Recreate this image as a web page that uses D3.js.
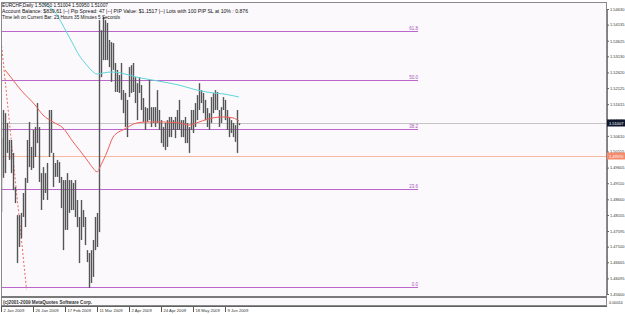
<!DOCTYPE html>
<html>
<head>
<meta charset="utf-8">
<script src="https://cdnjs.cloudflare.com/ajax/libs/d3/7.8.5/d3.min.js"></script>
<style>
  html, body { margin: 0; padding: 0; background: #fff; }
  svg { display: block; font-family: "Liberation Sans", Arial, sans-serif; }
</style>
</head>
<body>
<svg width="625" height="315"></svg>
<script>
// EURCHF daily bars, one per trading day from 2 Jan 2009 (index 0)
const highs = [
  1.5054, 1.5143, 1.5133, 1.5102, 1.5048, 1.5048, 1.5007, 1.4899, 1.4810, 1.4810,
  1.4817, 1.4880, 1.4928, 1.5048, 1.5105, 1.5026, 1.5080, 1.5089, 1.5165, 1.5089,
  1.4943, 1.4962, 1.4943, 1.4975, 1.5143, 1.5143, 1.5007, 1.4975, 1.4985, 1.4978,
  1.4931, 1.4921, 1.4921, 1.4943, 1.4921, 1.4921, 1.4912, 1.4921, 1.4858, 1.4804,
  1.4858, 1.4826, 1.4804, 1.4699, 1.4690, 1.4699, 1.4731, 1.4804, 1.4817, 1.5428,
  1.5396, 1.5438, 1.5428, 1.5419, 1.5365, 1.5358, 1.5355, 1.5292, 1.5270, 1.5254,
  1.5292, 1.5206, 1.5197, 1.5175, 1.5279, 1.5285, 1.5292, 1.5247, 1.5228, 1.5247,
  1.5222, 1.5181, 1.5152, 1.5149, 1.5238, 1.5152, 1.5152, 1.5152, 1.5206, 1.5143,
  1.5111, 1.5089, 1.5102, 1.5111, 1.5121, 1.5121, 1.5111, 1.5121, 1.5143, 1.5175,
  1.5111, 1.5111, 1.5121, 1.5102, 1.5089, 1.5143, 1.5143, 1.5165, 1.5190, 1.5228,
  1.5206, 1.5197, 1.5175, 1.5149, 1.5133, 1.5184, 1.5197, 1.5206, 1.5200, 1.5143,
  1.5152, 1.5184, 1.5175, 1.5143, 1.5121, 1.5111, 1.5102, 1.5095, 1.5143, 1.5101
]
const lows = [
  1.4820, 1.4928, 1.4943, 1.5007, 1.4985, 1.4943, 1.4889, 1.4848, 1.4658, 1.4709,
  1.4737, 1.4804, 1.4772, 1.4912, 1.4962, 1.4953, 1.4959, 1.4994, 1.5038, 1.4915,
  1.4826, 1.4858, 1.4880, 1.4858, 1.4994, 1.5007, 1.4899, 1.4931, 1.4931, 1.4912,
  1.4832, 1.4699, 1.4763, 1.4763, 1.4817, 1.4826, 1.4826, 1.4804, 1.4772, 1.4658,
  1.4731, 1.4772, 1.4715, 1.4661, 1.4579, 1.4595, 1.4614, 1.4699, 1.4709, 1.4756,
  1.5247, 1.5301, 1.5301, 1.5301, 1.5279, 1.5232, 1.5270, 1.5200, 1.5200, 1.5197,
  1.5175, 1.5133, 1.5089, 1.5057, 1.5184, 1.5197, 1.5200, 1.5165, 1.5111, 1.5197,
  1.5143, 1.5105, 1.5080, 1.5105, 1.5111, 1.5089, 1.5102, 1.5089, 1.5102, 1.5080,
  1.5038, 1.5026, 1.5016, 1.5026, 1.5057, 1.5057, 1.5080, 1.5054, 1.5080, 1.5080,
  1.5057, 1.5057, 1.5038, 1.5038, 1.5007, 1.5080, 1.5070, 1.5089, 1.5111, 1.5143,
  1.5165, 1.5133, 1.5111, 1.5089, 1.5080, 1.5102, 1.5133, 1.5143, 1.5143, 1.5089,
  1.5102, 1.5143, 1.5111, 1.5080, 1.5057, 1.5070, 1.5057, 1.5042, 1.5007, 1.5095
]

// slow moving average (cyan), read at some bars
const maSlowIdx = [16, 20, 24, 27, 30, 33, 36, 39, 42, 45, 48, 51, 54, 57, 60, 64, 68, 73, 81, 89, 98, 106, 111, 119]
const maSlowVal = [1.5498, 1.5485, 1.5469, 1.5453, 1.5422, 1.5387, 1.5352, 1.5317, 1.5292, 1.5270, 1.5257, 1.5260,
  1.5263, 1.5263, 1.5260, 1.5254, 1.5247, 1.5241, 1.5232, 1.5222, 1.5206, 1.5197, 1.5194, 1.5184]

// fast moving average (red)
const maFastIdx = [2, 6, 10, 17, 21, 26, 31, 36, 40, 43, 46, 48, 50, 53, 56, 58, 61, 68, 73, 81, 89, 94, 99, 106, 111, 116, 119]
const maFastVal = [1.5270, 1.5238, 1.5206, 1.5159, 1.5127, 1.5105, 1.5086, 1.5042, 1.5010, 1.4985, 1.4959, 1.4947,
  1.4969, 1.5010, 1.5057, 1.5070, 1.5080, 1.5102, 1.5105, 1.5105, 1.5102, 1.5095, 1.5105, 1.5118, 1.5121, 1.5118, 1.5108]

// dotted trend line object
const trendIdx = [-0.5, 12.75]
const trendVal = [1.5396, 1.4575]

// fibonacci retracement (levels that fall inside the window)
const fibLevels = [0, 23.6, 38.2, 50, 61.8]
const fibLabels = ["0.0", "23.6", "38.2", "50.0", "61.8"]
const fibLow = 1.4582
const fibHigh = 1.5893
const fibEndIdx = 208.5

const bidPrice = 1.51007
const hlinePrice = 1.4997

const priceTicks = [1.54630, 1.54135, 1.53625, 1.53130, 1.52620, 1.52125, 1.51615, 1.51120, 1.50610, 1.50115,
  1.49605, 1.49110, 1.48600, 1.48105, 1.47595, 1.47100, 1.46605, 1.46095, 1.45600]

const dateIdx = [0, 16, 32, 48, 64, 80, 96, 112]
const dateLabels = ["2 Jan 2009", "26 Jan 2009", "17 Feb 2009", "11 Mar 2009", "2 Apr 2009", "24 Apr 2009", "18 May 2009", "9 Jun 2009"]

const infoLines = [
  "EURCHF,Daily  1.50950 1.51004 1.50950 1.51007",
  "Account Balance: $839.61 |--| Pip Spread: 47 |--| PIP Value: $1.1517 |--| Lots with 100 PIP SL at 10% : 0.876",
  "Time left on Current Bar: 23 Hours 35 Minutes 5 Seconds"
]

const svg = d3.select("svg")
const L = 1, R = 607, T = 2, B = 296
const FONT = "Liberation Sans, Arial, sans-serif"

const x = d3.scaleLinear().domain([0, 303]).range([L, R])
const y = d3.scaleLinear().domain([1.4560, 1.5463]).range([294, 9])
const fmt = d3.format(".5f")

// background
svg.append("rect").attr("width", 625).attr("height", 315).attr("fill", "#ffffff")
svg.append("rect").attr("x", L).attr("y", T).attr("width", R - L).attr("height", 306 - T).attr("fill", "#fbf9fc")

svg.append("clipPath").attr("id", "plot")
  .append("rect").attr("x", L).attr("y", T).attr("width", R - L).attr("height", B - T)

const g = svg.append("g").attr("clip-path", "url(#plot)")

// horizontal line object and bid line
g.append("line").attr("x1", L).attr("x2", R)
  .attr("y1", Math.round(y(hlinePrice)) + 0.5).attr("y2", Math.round(y(hlinePrice)) + 0.5)
  .attr("stroke", "#f6b9a4").attr("stroke-width", 1)
g.append("line").attr("x1", L).attr("x2", R)
  .attr("y1", Math.round(y(bidPrice)) + 0.5).attr("y2", Math.round(y(bidPrice)) + 0.5)
  .attr("stroke", "#c4c4c4").attr("stroke-width", 1)

// fibonacci levels
const fibPrice = lv => fibLow + (fibHigh - fibLow) * lv / 100
g.selectAll("line.fib").data(fibLevels).enter().append("line").attr("class", "fib")
  .attr("x1", L).attr("x2", x(fibEndIdx))
  .attr("y1", d => Math.round(y(fibPrice(d))) + 0.5)
  .attr("y2", d => Math.round(y(fibPrice(d))) + 0.5)
  .attr("stroke", "#bb66cc").attr("stroke-width", 1)
g.selectAll("text.fib").data(fibLevels).enter().append("text").attr("class", "fib")
  .attr("x", x(fibEndIdx)).attr("y", d => Math.round(y(fibPrice(d))) - 1)
  .attr("text-anchor", "end").attr("font-size", 4.5).attr("fill", "#a755b8")
  .text((d, i) => fibLabels[i])

// dotted trend line
g.append("line")
  .attr("x1", x(trendIdx[0])).attr("y1", y(trendVal[0]))
  .attr("x2", x(trendIdx[1])).attr("y2", y(trendVal[1]))
  .attr("stroke", "#f06a5a").attr("stroke-width", 1).attr("stroke-dasharray", "2,2")

// bars (high-low)
g.selectAll("line.bar").data(highs).enter().append("line").attr("class", "bar")
  .attr("x1", (d, i) => Math.round(x(i)) + 0.5).attr("x2", (d, i) => Math.round(x(i)) + 0.5)
  .attr("y1", d => y(d)).attr("y2", (d, i) => y(lows[i]))
  .attr("stroke", "#555555").attr("stroke-width", 1.4)

// moving averages
const line = d3.line().x(d => x(d[0])).y(d => y(d[1])).curve(d3.curveMonotoneX)
g.append("path").attr("d", line(maSlowIdx.map((d, i) => [d, maSlowVal[i]])))
  .attr("fill", "none").attr("stroke", "#5fd6dc").attr("stroke-width", 1)
g.append("path").attr("d", line(maFastIdx.map((d, i) => [d, maFastVal[i]])))
  .attr("fill", "none").attr("stroke", "#f0605a").attr("stroke-width", 1)

// frame and sub window separator
svg.append("rect").attr("x", L + 0.5).attr("y", T + 0.5).attr("width", R - L - 1).attr("height", 306 - T - 1)
  .attr("fill", "none").attr("stroke", "#8a8a8a")
svg.append("line").attr("x1", L).attr("x2", R).attr("y1", 297).attr("y2", 297)
  .attr("stroke", "#7a7a7a").attr("stroke-width", 2)
svg.append("line").attr("x1", L).attr("x2", R).attr("y1", 306.5).attr("y2", 306.5)
  .attr("stroke", "#606060").attr("stroke-width", 1)

// right price axis
const yAxis = svg.append("g").attr("transform", `translate(${R},0)`)
  .call(d3.axisRight(y).tickValues(priceTicks).tickSize(2).tickFormat(fmt))
yAxis.select(".domain").attr("stroke", "#808080")
yAxis.selectAll("line").attr("stroke", "#606060")
yAxis.selectAll("text").attr("font-size", 4).attr("fill", "#333").attr("x", 3)
  .attr("font-family", FONT)

// price boxes on the axis
function priceBox(p, fill) {
  const yy = Math.round(y(p))
  svg.append("rect").attr("x", R).attr("y", yy - 3.5).attr("width", 625 - R).attr("height", 7).attr("fill", fill)
  svg.append("text").attr("x", R + 2).attr("y", yy + 1.5).attr("font-size", 4).attr("fill", "#fff")
    .attr("font-family", FONT).text(fmt(p))
}
priceBox(hlinePrice, "#f58a6c")
priceBox(bidPrice, "#101830")

// sub window scale label
svg.append("text").attr("x", R + 2).attr("y", 304).attr("font-size", 3.8).attr("fill", "#333").text("0.00014")

// date axis
const xAxis = svg.append("g").attr("transform", "translate(0,307)")
  .call(d3.axisBottom(x).tickValues(dateIdx).tickSize(5).tickFormat((d, i) => dateLabels[i]))
xAxis.select(".domain").remove()
xAxis.selectAll("line").attr("stroke", "#555")
xAxis.selectAll("text").attr("font-size", 4.2).attr("fill", "#333").attr("text-anchor", "start")
  .attr("x", 2).attr("y", 2).attr("dy", "0.71em")
  .attr("font-family", FONT)

// copyright in the sub window
svg.append("text").attr("x", 3).attr("y", 304).attr("font-size", 4.6).attr("font-weight", "bold")
  .attr("fill", "#333").text("(c)2001-2009 MetaQuotes Software Corp.")

// info text top left
const infoWidths = [106, 246, 118]
svg.selectAll("text.info").data(infoLines).enter().append("text").attr("class", "info")
  .attr("x", 2).attr("y", (d, i) => 7 + i * 6.2)
  .attr("font-size", 5).attr("fill", "#111")
  .attr("textLength", (d, i) => infoWidths[i]).attr("lengthAdjust", "spacingAndGlyphs")
  .text(d => d)
</script>
</body>
</html>
